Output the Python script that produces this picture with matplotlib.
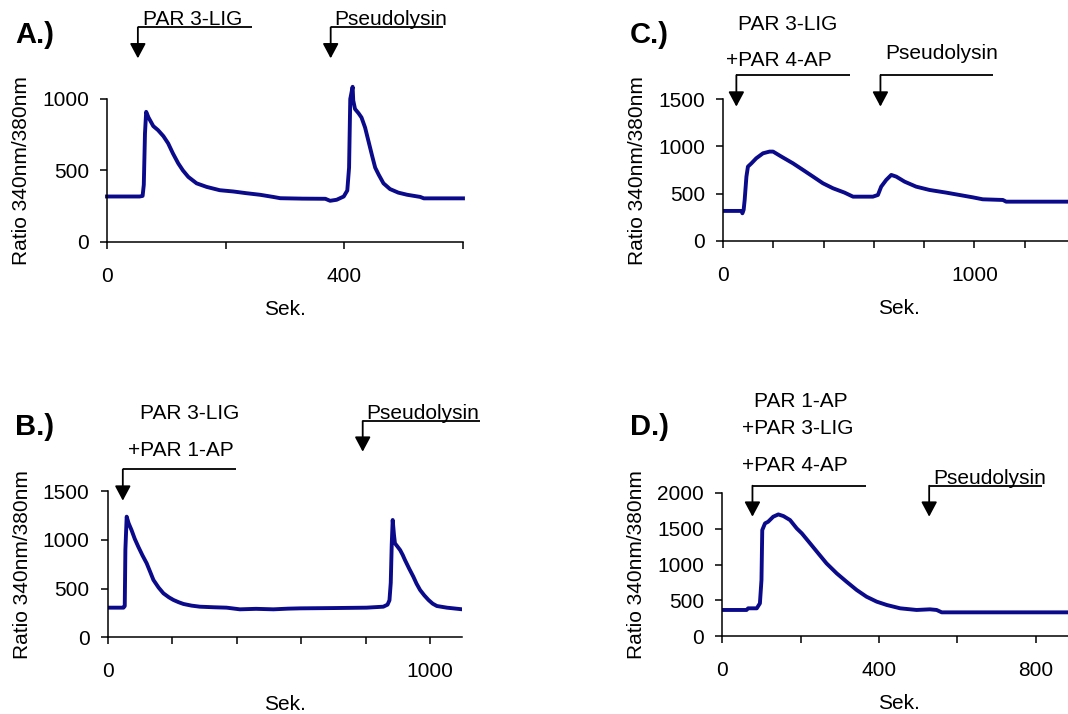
import matplotlib.pyplot as plt

plt.rcParams['font.family'] = ['Liberation Sans', 'DejaVu Sans']
plt.rcParams['font.size'] = 15

# Panel A: PAR 3-LIG, then Pseudolysin
t_a = [0, 55, 60, 62, 64, 66, 70, 78, 86, 95, 103, 111, 120, 128, 137, 151, 168, 190,
       213, 235, 258, 280, 292, 330, 368, 376, 387, 399, 405, 408, 410, 414, 415, 418,
       424, 429, 435, 441, 447, 452, 458, 466, 477, 491, 506, 528, 534, 600]
v_a = [318, 318, 322, 400, 760, 910, 870, 810, 782, 740, 690, 620, 550, 500, 455, 410,
       385, 362, 353, 341, 330, 315, 306, 303, 302, 288, 295, 318, 360, 520, 1000, 1085,
       990, 930, 900, 870, 800, 700, 600, 520, 470, 410, 370, 345, 330, 315, 305, 305]

# Panel B: PAR 3-LIG + PAR 1-AP, then Pseudolysin
t_b = [0, 49, 53, 55, 59, 65, 74, 84, 95, 108, 121, 132, 142, 158, 173, 190, 204, 220,
       235, 260, 286, 330, 369, 410, 460, 514, 560, 597, 700, 803, 855, 868, 874, 878,
       881, 884, 888, 891, 899, 907, 915, 922, 935, 948, 958, 969, 982, 995, 1008, 1021,
       1052, 1100]
v_b = [304, 304, 320, 900, 1237, 1170, 1100, 1010, 929, 840, 759, 670, 588, 510, 451,
       410, 383, 360, 342, 325, 314, 308, 304, 287, 292, 287, 294, 297, 300, 304, 314,
       335, 380, 560, 950, 1203, 1050, 964, 930, 895, 845, 793, 705, 622, 550, 485, 430,
       383, 345, 321, 304, 287]

# Panel C: PAR 3-LIG + PAR 4-AP, then Pseudolysin
t_c = [0, 73, 77, 82, 86, 93, 99, 113, 132, 159, 185, 199, 232, 278, 318, 358, 397, 437,
       483, 517, 596, 616, 629, 649, 669, 689, 722, 768, 821, 887, 940, 993, 1033, 1113,
       1126, 1400]
v_c = [318, 318, 293, 330, 434, 681, 787, 822, 875, 928, 946, 946, 893, 822, 752, 681,
       611, 558, 512, 469, 469, 487, 575, 646, 699, 681, 628, 575, 540, 512, 487, 462,
       441, 434, 416, 416]

# Panel D: PAR 1-AP + PAR 3-LIG + PAR 4-AP, then Pseudolysin
t_d = [0, 62, 66, 88, 96, 100, 102, 109, 117, 130, 143, 156, 173, 190, 203, 224, 245,
       266, 292, 317, 343, 368, 394, 420, 454, 496, 530, 547, 560, 900]
v_d = [367, 367, 390, 390, 459, 784, 1480, 1573, 1596, 1666, 1698, 1675, 1619, 1503,
       1434, 1295, 1155, 1016, 877, 761, 645, 552, 483, 436, 390, 367, 376, 367, 334, 334]

line_col = '#0a0a8a'


def bracket(ax, x0, x1, y_line, y_tip):
    ax.plot([x1, x0], [y_line, y_line], color='black', lw=1.3, clip_on=False,
            solid_capstyle='butt')
    ax.annotate('', xy=(x0, y_tip), xytext=(x0, y_line),
                arrowprops=dict(arrowstyle='-|>,head_length=0.6,head_width=0.32',
                                color='black', lw=1.3, shrinkA=0, shrinkB=0),
                annotation_clip=False)


def style(ax, xmax, xticks, xlabels, ymax, yticks):
    ax.set_xlim(0, xmax)
    ax.set_ylim(0, ymax)
    ax.set_xticks(xticks)
    ax.set_xticklabels(xlabels)
    ax.set_yticks(yticks)
    for s in ['top', 'right']:
        ax.spines[s].set_visible(False)
    ax.spines['left'].set_linewidth(1.1)
    ax.spines['bottom'].set_linewidth(1.1)
    ax.tick_params(axis='x', direction='out', length=5, width=1.1, pad=13)
    ax.tick_params(axis='y', direction='out', length=5, width=1.1, pad=8)
    ax.set_xlabel('Sek.', labelpad=10)
    ax.set_ylabel('Ratio 340nm/380nm', labelpad=8)


fig = plt.figure(figsize=(10.68, 7.14), dpi=100)

# A
ax = fig.add_axes([0.1002, 0.6611, 0.3333, 0.2003])
ax.plot(t_a, v_a, color=line_col, lw=2.8, clip_on=False)
style(ax, 600, [0, 200, 400, 600], ['0', '', '400', ''], 1000, [0, 500, 1000])
bracket(ax, 52, 244, 1501, 1284)
ax.text(60, 1515, 'PAR 3-LIG', ha='left', va='baseline')
bracket(ax, 377, 567, 1501, 1284)
ax.text(383, 1515, 'Pseudolysin', ha='left', va='baseline')

# C
ax = fig.add_axes([0.677, 0.6625, 0.3296, 0.1985])
ax.plot(t_c, v_c, color=line_col, lw=2.8)
style(ax, 1400, list(range(0, 1401, 200)), ['0', '', '', '', '', '1000', '', ''],
      1500, [0, 500, 1000, 1500])
bracket(ax, 53, 503, 1754, 1422)
ax.text(257, 2287, 'PAR 3-LIG', ha='center', va='center')
ax.text(221, 1906, '+PAR 4-AP', ha='center', va='center')
bracket(ax, 626, 1073, 1754, 1422)
ax.text(868, 1980, 'Pseudolysin', ha='center', va='center')

# B
ax = fig.add_axes([0.1008, 0.1074, 0.3321, 0.2049])
ax.plot(t_b, v_b, color=line_col, lw=2.8)
style(ax, 1100, list(range(0, 1101, 200)), ['0', '', '', '', '', '1000'],
      1500, [0, 500, 1000, 1500])
bracket(ax, 47, 398, 1722, 1401)
ax.text(255, 2295, 'PAR 3-LIG', ha='center', va='center')
ax.text(227, 1920, '+PAR 1-AP', ha='center', va='center')
bracket(ax, 791, 1155, 2218, 1903)
ax.text(803, 2235, 'Pseudolysin', ha='left', va='baseline')

# D
ax = fig.add_axes([0.6763, 0.1088, 0.3302, 0.2011])
ax.plot(t_d, v_d, color=line_col, lw=2.8)
style(ax, 900, list(range(0, 901, 200)), ['0', '', '400', '', '800'],
      2000, [0, 500, 1000, 1500, 2000])
bracket(ax, 77, 366, 2098, 1666)
ax.text(201, 3267, 'PAR 1-AP', ha='center', va='center')
ax.text(193, 2897, '+PAR 3-LIG', ha='center', va='center')
ax.text(185, 2386, '+PAR 4-AP', ha='center', va='center')
bracket(ax, 528, 815, 2098, 1666)
ax.text(539, 2118, 'Pseudolysin', ha='left', va='baseline')

# panel letters
for lbl, x, y in [('A.)', 15, 43), ('C.)', 630, 43), ('B.)', 15, 435), ('D.)', 630, 435)]:
    fig.text(x / 1068, 1 - y / 714, lbl, fontsize=21, fontweight='bold',
             ha='left', va='baseline')

fig.savefig('out.png', dpi=100)
